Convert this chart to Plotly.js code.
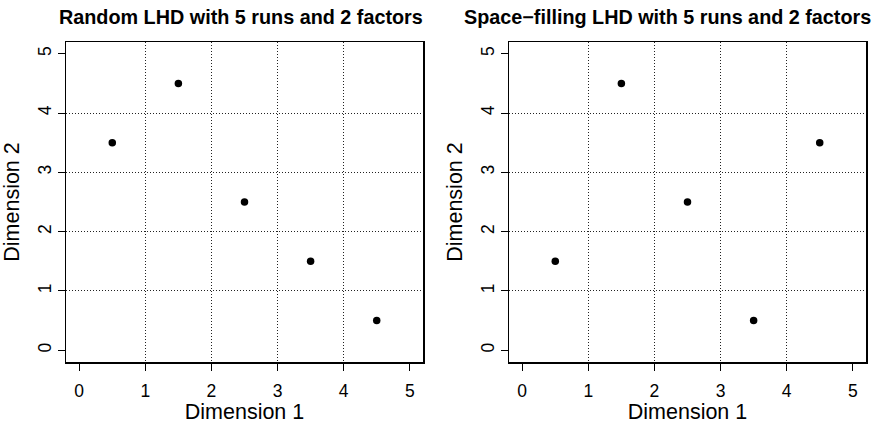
<!DOCTYPE html>
<html>
<head>
<meta charset="utf-8">
<script src="https://cdn.plot.ly/plotly-3.0.1.min.js"></script>
<style>html,body{margin:0;padding:0;background:#fff;}#chart{width:877px;height:424px;}</style>
</head>
<body>
<div id="chart"></div>
<script>
// Data
var randomX = [0.5, 1.5, 2.5, 3.5, 4.5];
var randomY = [3.5, 4.5, 2.5, 1.5, 0.5];
var spaceX = [0.5, 1.5, 2.5, 3.5, 4.5];
var spaceY = [1.5, 4.5, 2.5, 0.5, 3.5];
var tickValues = [0, 1, 2, 3, 4, 5];
var tickLabels = ["0", "1", "2", "3", "4", "5"];
var gridValues = [1, 2, 3, 4];
var titleLeft = "Random LHD with 5 runs and 2 factors";
var titleRight = "Space\u2212filling LHD with 5 runs and 2 factors";
var xLabel = "Dimension 1";
var yLabel = "Dimension 2";

var FONT = "Liberation Sans, Arial, Helvetica, sans-serif";

function pts(x, y, xa, ya) {
  return {
    x: x, y: y, xaxis: xa, yaxis: ya, type: "scatter", mode: "markers",
    marker: {color: "#000", size: 7.5, line: {width: 0}},
    hoverinfo: "x+y", showlegend: false
  };
}

function xAxis(domain, anchor) {
  return {
    domain: domain, anchor: anchor, range: [-0.2, 5.2],
    tickmode: "array", tickvals: tickValues, ticktext: tickLabels,
    ticks: "outside", ticklen: 7, tickwidth: 1, tickcolor: "#000",
    showline: true, mirror: true, linecolor: "#000", linewidth: 1.5,
    showgrid: false, zeroline: false,
    minor: {tickmode: "array", tickvals: gridValues, showgrid: true, gridcolor: "#222", gridwidth: 1, griddash: "1px,2px", ticks: ""},
    tickfont: {family: FONT, size: 17.5, color: "#000"},
    ticklabelstandoff: 5,
    title: {text: xLabel, font: {family: FONT, size: 21.5, color: "#000"}, standoff: 7},
    automargin: false, fixedrange: true
  };
}
function yAxis(domain, anchor) {
  return {
    domain: domain, anchor: anchor, range: [-0.2, 5.2],
    tickmode: "array", tickvals: tickValues, ticktext: tickLabels,
    tickangle: -90,
    ticks: "outside", ticklen: 7, tickwidth: 1, tickcolor: "#000",
    showline: true, mirror: true, linecolor: "#000", linewidth: 1.5,
    showgrid: false, zeroline: false,
    minor: {tickmode: "array", tickvals: gridValues, showgrid: true, gridcolor: "#222", gridwidth: 1, griddash: "1px,2px", ticks: ""},
    tickfont: {family: FONT, size: 17.5, color: "#000"},
    ticklabelstandoff: 0,
    title: {text: yLabel, font: {family: FONT, size: 21.5, color: "#000"}, standoff: 9},
    automargin: false, fixedrange: true
  };
}

var yDom = [62/424, 382/424];
var layout = {
  width: 877, height: 424,
  margin: {l: 0, r: 0, t: 0, b: 0, pad: 0},
  paper_bgcolor: "#fff", plot_bgcolor: "#fff",
  showlegend: false,
  xaxis: xAxis([66/877, 423/877], "y"),
  yaxis: yAxis(yDom, "x"),
  xaxis2: xAxis([509/877, 866/877], "y2"),
  yaxis2: yAxis(yDom, "x2"),
  annotations: [
    {text: "<b>" + titleLeft + "</b>", xref: "paper", yref: "paper", x: 241/877, y: 1 - 17/424,
     xanchor: "center", yanchor: "middle", showarrow: false, font: {family: FONT, size: 19.8, color: "#000"}},
    {text: "<b>" + titleRight + "</b>", xref: "paper", yref: "paper", x: 667/877, y: 1 - 17/424,
     xanchor: "center", yanchor: "middle", showarrow: false, font: {family: FONT, size: 19.8, color: "#000"}}
  ]
};

var data = [pts(randomX, randomY, "x", "y"), pts(spaceX, spaceY, "x2", "y2")];
Plotly.newPlot("chart", data, layout, {staticPlot: true, displayModeBar: false});
</script>
</body>
</html>
